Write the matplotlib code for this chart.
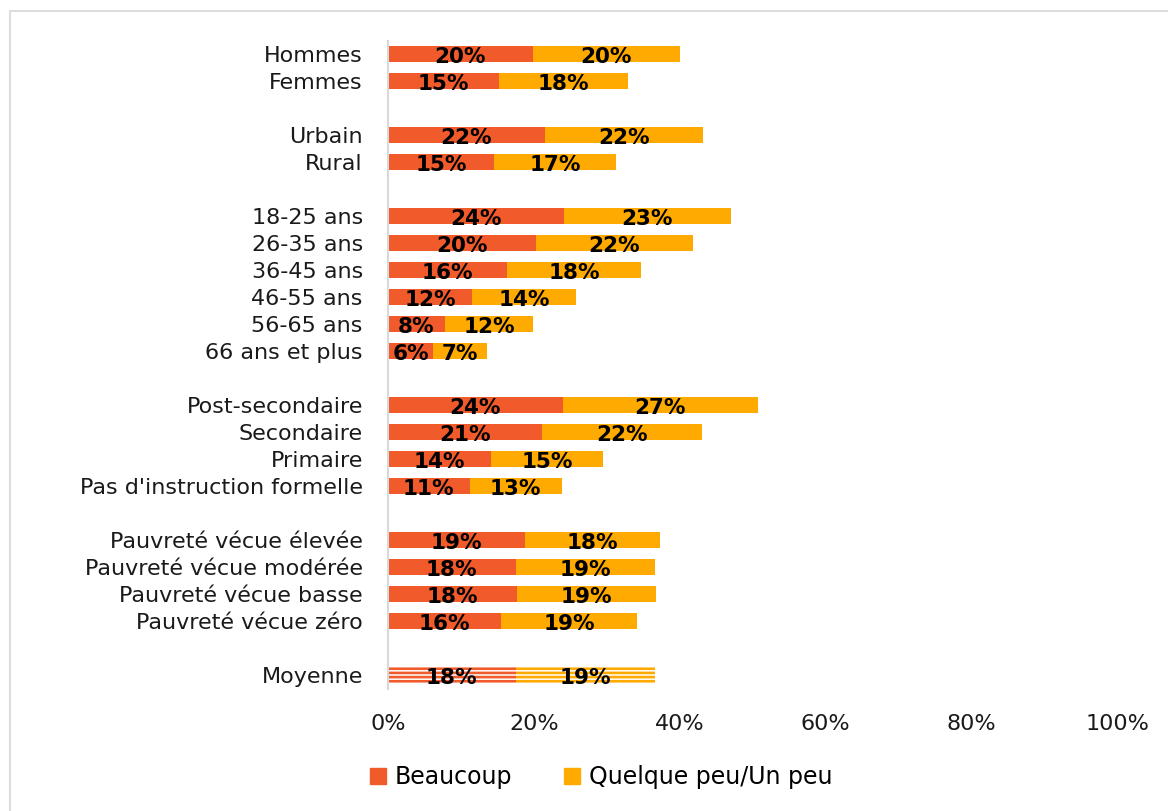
import matplotlib.pyplot as plt
from matplotlib.patches import Rectangle

# categories, top to bottom ('' = blank gap row)
cats = ['Hommes', 'Femmes', '',
        'Urbain', 'Rural', '',
        '18-25 ans', '26-35 ans', '36-45 ans', '46-55 ans', '56-65 ans', '66 ans et plus', '',
        'Post-secondaire', 'Secondaire', 'Primaire', "Pas d'instruction formelle", '',
        'Pauvreté vécue élevée', 'Pauvreté vécue modérée', 'Pauvreté vécue basse', 'Pauvreté vécue zéro', '',
        'Moyenne']

beaucoup = [19.9, 15.3, None,
            21.5, 14.6, None,
            24.1, 20.3, 16.3, 11.6, 7.8, 6.2, None,
            24.0, 21.1, 14.1, 11.2, None,
            18.8, 17.5, 17.7, 15.5, None,
            17.5]
un_peu = [20.1, 17.6, None,
          21.7, 16.6, None,
          22.9, 21.5, 18.4, 14.2, 12.1, 7.4, None,
          26.7, 21.9, 15.4, 12.6, None,
          18.5, 19.1, 19.1, 18.6, None,
          19.1]

c_beau = '#F15A2B'
c_peu = '#FFAA00'

plt.rcParams['font.family'] = ['DejaVu Sans']
plt.rcParams['hatch.linewidth'] = 1.9

fig = plt.figure(figsize=(11.68, 8.11), dpi=100)
ax = fig.add_axes([0.332, 0.151, 0.625, 0.799])

for i, (cat, b, p) in enumerate(zip(cats, beaucoup, un_peu)):
    if b is None:
        continue
    if cat == 'Moyenne':
        ax.barh(i, b, height=0.6, color='white', edgecolor=c_beau, hatch='----', linewidth=0)
        ax.barh(i, p, left=b, height=0.6, color='white', edgecolor=c_peu, hatch='----', linewidth=0)
    else:
        ax.barh(i, b, height=0.6, color=c_beau)
        ax.barh(i, p, left=b, height=0.6, color=c_peu)
    ax.text(b / 2, i + 0.12, f'{round(b)}%', ha='center', va='center',
            fontsize=15.5, fontweight='bold', color='black')
    ax.text(b + p / 2, i + 0.12, f'{round(p)}%', ha='center', va='center',
            fontsize=15.5, fontweight='bold', color='black')

ax.set_ylim(len(cats) - 0.5, -0.5)
ax.set_xlim(0, 100)
ax.set_yticks(range(len(cats)))
ax.set_yticklabels(cats, fontsize=16, color='#1a1a1a')
ax.set_xticks(range(0, 101, 20))
ax.set_xticklabels([f'{v}%' for v in range(0, 101, 20)], fontsize=16, color='#1a1a1a')
ax.tick_params(length=0)
ax.tick_params(axis='x', pad=18)
ax.tick_params(axis='y', pad=18)
for s in ['top', 'right', 'bottom']:
    ax.spines[s].set_visible(False)
ax.spines['left'].set_color('#D9D9D9')
ax.spines['left'].set_linewidth(1.5)

handles = [Rectangle((0, 0), 1, 1, color=c_beau), Rectangle((0, 0), 1, 1, color=c_peu)]
fig.legend(handles, ['Beaucoup', 'Quelque peu/Un peu'], loc='center',
           bbox_to_anchor=(0.515, 0.042), ncol=2, frameon=False, fontsize=17,
           handlelength=0.65, handleheight=0.65, handletextpad=0.4, columnspacing=2.2)

# outer light frame
fig.patches.append(Rectangle((10 / 1168, -0.01), 1.1, 1 - 11 / 811 + 0.01,
                             transform=fig.transFigure, fill=False,
                             edgecolor='#DDDDDD', linewidth=1.5))

fig.savefig('out.png', dpi=100)
